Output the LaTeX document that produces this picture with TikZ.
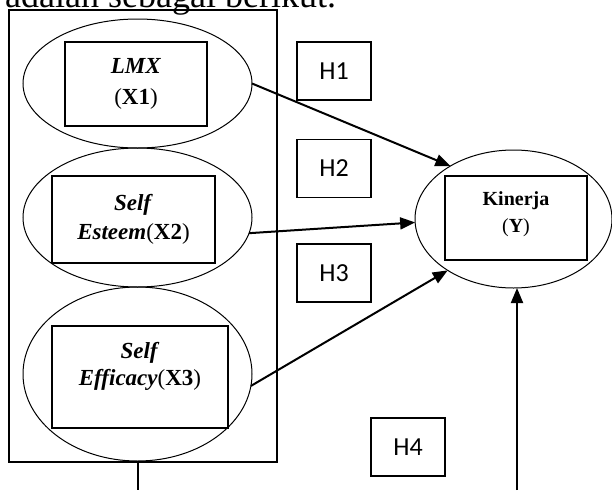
\documentclass[tikz,border=0pt]{standalone}
\usepackage{fontspec}
\setmainfont{Liberation Serif}
\newfontfamily\hfont{Carlito}
\usetikzlibrary{shapes.geometric}
\usetikzlibrary{arrows.meta}
\usetikzlibrary{positioning}

\begin{document}
\begin{tikzpicture}[x=1pt, y=-1pt,
    framebox/.style={rectangle, draw=black, line width=1.3pt, minimum width=268pt, minimum height=452pt, inner sep=0pt},
    ovalnode/.style={ellipse, draw=black, line width=1pt, minimum width=229pt, inner sep=0pt, outer sep=0pt},
    varbox/.style={rectangle, draw=black, line width=1.4pt, align=center, inner sep=0pt, font=\fontsize{23}{30}\selectfont},
    hbox/.style={rectangle, draw=black, line width=1.1pt, minimum width=74pt, minimum height=58pt, inner sep=0pt, font=\hfont\fontsize{26}{30}\selectfont},
    arrowline/.style={-{Triangle[length=15pt, width=12pt]}, line width=2pt}]
        \useasboundingbox (0,0) rectangle (612,490);
        \node[anchor=base west, inner sep=0pt, font=\fontsize{36}{42}\selectfont] (intro) at (5,7) {adalah sebagai berikut.};

        \node[framebox] (frame) at (143,236) {};
        \node[ovalnode, minimum height=129pt] (x1oval) at (137.5,83.5) {};
        \node[varbox, minimum width=142pt, minimum height=84pt, font=\fontsize{23}{31}\selectfont] (x1box) at (136,84) {\textbf{\textit{LMX}}\\(\textbf{X1})};
        \node[ovalnode, minimum height=139pt] (x2oval) at (137.5,217.5) {};
        \node[varbox, minimum width=163pt, minimum height=87pt, font=\fontsize{23}{29}\selectfont] (x2box) at (133.5,219.5) {\textbf{\textit{Self}}\\\textbf{\textit{Esteem}}(\textbf{X2})};
        \node[ovalnode, minimum height=174pt] (x3oval) at (137.5,374) {};
        \node[varbox, minimum width=176pt, minimum height=102pt, font=\fontsize{23}{27}\selectfont, text depth=27pt] (x3box) at (140,377) {\textbf{\textit{Self}}\\\textbf{\textit{Efficacy}}(\textbf{X3})};

        \node[ovalnode, minimum width=197pt, minimum height=138pt] (yoval) at (513.5,219) {};
        \node[varbox, minimum width=142pt, minimum height=84pt, font=\fontsize{20}{27}\selectfont, text depth=11pt] (ybox) at (516,218) {\textbf{Kinerja}\\(\textbf{Y})};

        \node[hbox] (h1) at (334,71) {H1};
        \node[hbox] (h2) at (334,168.5) {H2};
        \node[hbox] (h3) at (334,273) {H3};
        \node[hbox] (h4) at (408,447) {H4};

        \coordinate (leftend) at (138,490);
        \coordinate (rightend) at (517,490);

        \draw[arrowline] (x1oval.east) -- (yoval.140);
        \draw[arrowline] (x2oval.-8) -- (yoval.182);
        \draw[arrowline] (x3oval.-6) -- (yoval.218);
        \draw[line width=1.3pt] (leftend |- frame.south) -- (leftend);
        \draw[arrowline] (rightend) -- (rightend |- yoval.south);
    \end{tikzpicture}
\end{document}
